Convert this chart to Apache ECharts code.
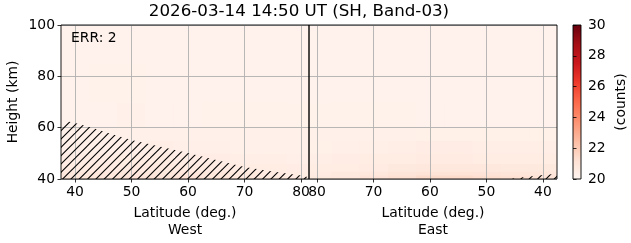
<!DOCTYPE html>
<html><head><meta charset="utf-8">
<script src="https://cdn.jsdelivr.net/npm/echarts@6/dist/echarts.min.js"></script>
<style>html,body{margin:0;padding:0;background:#fff}#c{width:631px;height:243px}</style>
</head><body><div id="c"></div>
<script>
const titleText = '2026-03-14 14:50 UT (SH, Band-03)';
const errText = 'ERR: 2';
const latTicks = [40, 50, 60, 70, 80];
const latMin = 37.5;
const latMax = 81.42;
const heightMin = 40, heightMax = 100, heightStep = 20;
const cbarMin = 20, cbarMax = 30, cbarStep = 2;

// cell edges (latitude ascending, height ascending)
const latEdges = [37.5, 42.5, 47.5, 52.5, 57.5, 62.5, 67.5, 72.5, 77.5, 81.42];
const heightEdges = [40, 41.5, 43, 46, 50, 55, 60, 70, 85, 100];

// counts, rows = height bands bottom->top, cols = latitude bands ascending
const westValues = [
  [20.9, 20.9, 21.0, 21.0, 21.0, 20.9, 20.8, 20.7, 20.6],
  [20.75, 20.8, 20.85, 20.85, 20.85, 20.8, 20.7, 20.6, 20.5],
  [20.6, 20.6, 20.65, 20.65, 20.6, 20.6, 20.55, 20.5, 20.45],
  [20.45, 20.45, 20.5, 20.5, 20.45, 20.45, 20.4, 20.4, 20.35],
  [20.35, 20.35, 20.35, 20.4, 20.35, 20.35, 20.3, 20.3, 20.3],
  [20.3, 20.3, 20.3, 20.3, 20.3, 20.25, 20.25, 20.25, 20.25],
  [20.22, 20.22, 20.25, 20.22, 20.22, 20.2, 20.2, 20.2, 20.2],
  [20.18, 20.2, 20.2, 20.18, 20.18, 20.18, 20.18, 20.17, 20.17],
  [20.15, 20.16, 20.17, 20.16, 20.15, 20.15, 20.15, 20.15, 20.15]
];
const eastValues = [
  [21.1, 21.2, 21.3, 21.4, 21.4, 21.2, 21.0, 20.8, 20.7],
  [20.9, 20.95, 21.0, 21.05, 21.05, 20.95, 20.8, 20.7, 20.6],
  [20.7, 20.7, 20.75, 20.8, 20.8, 20.7, 20.6, 20.55, 20.5],
  [20.55, 20.55, 20.55, 20.6, 20.6, 20.55, 20.5, 20.45, 20.4],
  [20.42, 20.42, 20.42, 20.45, 20.45, 20.42, 20.38, 20.35, 20.32],
  [20.32, 20.32, 20.32, 20.32, 20.32, 20.3, 20.28, 20.26, 20.25],
  [20.22, 20.22, 20.22, 20.22, 20.22, 20.2, 20.2, 20.2, 20.2],
  [20.17, 20.17, 20.17, 20.17, 20.17, 20.17, 20.16, 20.16, 20.16],
  [20.15, 20.15, 20.15, 20.15, 20.15, 20.15, 20.15, 20.15, 20.15]
];

// top of the hatched (masked) region
const westHatchLat = [37.5, 38.6, 40, 43, 46, 50, 55, 60, 65, 70, 75, 80, 81.42];
const westHatchTop = [61.3, 62.5, 61.8, 60.0, 57.8, 55.2, 52.7, 50.1, 47.4, 44.7, 42.9, 41.4, 40.7];
const eastHatchLat = [46, 44, 42, 40, 37.5];
const eastHatchTop = [40.0, 40.6, 41.1, 41.6, 42.0];

const redsColors = ['#fff5f0','#fee0d2','#fcbba1','#fc9272','#fb6a4a','#ef3b2c','#cb181d','#a50f15','#67000d'];
const FONT = 'DejaVu Sans';

function cells(values) {
  const out = [];
  for (let r = 0; r < heightEdges.length - 1; r++) {
    for (let c = 0; c < latEdges.length - 1; c++) {
      out.push([latEdges[c], latEdges[c + 1], heightEdges[r], heightEdges[r + 1], values[r][c]]);
    }
  }
  return out;
}

function renderCell(params, api) {
  const a = api.coord([api.value(0), api.value(2)]);
  const b = api.coord([api.value(1), api.value(3)]);
  const x = Math.min(a[0], b[0]), y = Math.min(a[1], b[1]);
  return {
    type: 'rect',
    shape: { x: x - 0.4, y: y - 0.4, width: Math.abs(b[0] - a[0]) + 0.8, height: Math.abs(b[1] - a[1]) + 0.8 },
    style: { fill: api.visual('color'), stroke: null }
  };
}

// hatch pattern "//"
const S = 25, d = S / 3;
const pc = document.createElement('canvas');
pc.width = S; pc.height = S;
const ctx = pc.getContext('2d');
ctx.strokeStyle = '#000';
ctx.lineWidth = 1.1;
for (let c = -d; c <= 2 * S + d; c += d) {
  ctx.beginPath(); ctx.moveTo(c + 3, -3); ctx.lineTo(-3, c + 3); ctx.stroke();
}
const hatchFill = { image: pc, repeat: 'repeat' };

function makeHatch(lats, tops) {
  return function (params, api) {
    if (params.dataIndex !== 0) return null;
    const pts = [api.coord([lats[0], heightMin])];
    for (let i = 0; i < lats.length; i++) pts.push(api.coord([lats[i], tops[i]]));
    pts.push(api.coord([lats[lats.length - 1], heightMin]));
    return { type: 'polygon', shape: { points: pts }, style: { fill: hatchFill, stroke: null } };
  };
}

const tickFont = { fontFamily: FONT, fontSize: 13.9, color: '#000' };

function latAxis(gi, inverse, side) {
  return {
    gridIndex: gi, type: 'value', min: latMin, max: latMax, inverse: inverse, z: 3,
    axisLine: { show: false },
    axisTick: { show: true, customValues: latTicks, length: 3.5, lineStyle: { color: '#000', width: 0.8 } },
    axisLabel: Object.assign({ customValues: latTicks, margin: 6 }, tickFont),
    splitLine: { show: true, lineStyle: { color: '#b0b0b0', width: 0.9 } },
    name: 'Latitude (deg.)\n' + side, nameLocation: 'middle', nameGap: 26,
    nameTextStyle: { fontFamily: FONT, fontSize: 13.9, color: '#000', lineHeight: 17 }
  };
}

const chart = echarts.init(document.getElementById('c'), null, { renderer: 'canvas' });
chart.setOption({
  animation: false,
  backgroundColor: '#fff',
  title: [
    { text: titleText, left: 299, top: 3, textAlign: 'center', padding: 0,
      textStyle: { fontFamily: FONT, fontSize: 16.7, fontWeight: 'normal', color: '#000' } },
    { text: errText, left: 71, top: 31, padding: 0, z: 12,
      textStyle: { fontFamily: FONT, fontSize: 13.9, fontWeight: 'normal', color: '#000' } }
  ],
  grid: [
    { left: 61, top: 25, width: 248, height: 154, show: true, borderColor: '#000', borderWidth: 0.9, backgroundColor: 'transparent', z: 10, outerBoundsMode: 'none' },
    { left: 309, top: 25, width: 248, height: 154, show: true, borderColor: '#000', borderWidth: 0.9, backgroundColor: 'transparent', z: 10, outerBoundsMode: 'none' },
    { left: 573, top: 25, width: 8, height: 154, show: true, borderColor: '#000', borderWidth: 0.9, backgroundColor: 'transparent', z: 10, outerBoundsMode: 'none' }
  ],
  xAxis: [
    latAxis(0, false, 'West'),
    latAxis(1, true, 'East'),
    { gridIndex: 2, type: 'value', min: 0, max: 1, show: false }
  ],
  yAxis: [
    { gridIndex: 0, type: 'value', min: heightMin, max: heightMax, interval: heightStep, z: 3,
      axisLine: { show: false },
      axisTick: { show: true, length: 3.5, lineStyle: { color: '#000', width: 0.8 } },
      axisLabel: Object.assign({ margin: 6 }, tickFont),
      splitLine: { show: true, lineStyle: { color: '#b0b0b0', width: 0.9 } },
      name: 'Height (km)', nameLocation: 'middle', nameGap: 41,
      nameTextStyle: { fontFamily: FONT, fontSize: 13.9, color: '#000' } },
    { gridIndex: 1, type: 'value', min: heightMin, max: heightMax, interval: heightStep, z: 3,
      axisLine: { show: false }, axisTick: { show: false }, axisLabel: { show: false },
      splitLine: { show: true, lineStyle: { color: '#b0b0b0', width: 0.9 } } },
    { gridIndex: 2, type: 'value', position: 'right', min: cbarMin, max: cbarMax, interval: cbarStep, z: 3,
      axisLine: { show: false },
      axisTick: { show: true, length: 3.5, lineStyle: { color: '#000', width: 0.8 } },
      axisLabel: Object.assign({ margin: 7 }, tickFont),
      splitLine: { show: false },
      name: '(counts)', nameLocation: 'middle', nameGap: 33,
      nameTextStyle: { fontFamily: FONT, fontSize: 13.9, color: '#000' } }
  ],
  visualMap: {
    type: 'continuous', show: false, min: cbarMin, max: cbarMax, dimension: 4, seriesIndex: [0, 1],
    inRange: { color: redsColors }
  },
  series: [
    { type: 'custom', xAxisIndex: 0, yAxisIndex: 0, z: 1, clip: true, silent: true,
      data: cells(westValues), encode: { x: [0, 1], y: [2, 3] }, renderItem: renderCell },
    { type: 'custom', xAxisIndex: 1, yAxisIndex: 1, z: 1, clip: true, silent: true,
      data: cells(eastValues), encode: { x: [0, 1], y: [2, 3] }, renderItem: renderCell },
    { type: 'custom', xAxisIndex: 0, yAxisIndex: 0, z: 4, clip: true, silent: true,
      data: westHatchLat.map((l, i) => [l, westHatchTop[i]]), renderItem: makeHatch(westHatchLat, westHatchTop) },
    { type: 'custom', xAxisIndex: 1, yAxisIndex: 1, z: 4, clip: true, silent: true,
      data: eastHatchLat.map((l, i) => [l, eastHatchTop[i]]), renderItem: makeHatch(eastHatchLat, eastHatchTop) },
    { type: 'custom', xAxisIndex: 2, yAxisIndex: 2, z: 1, silent: true,
      data: [[0, cbarMin, 1, cbarMax]],
      renderItem: function (params, api) {
        const a = api.coord([api.value(0), api.value(1)]);
        const b = api.coord([api.value(2), api.value(3)]);
        return { type: 'rect',
          shape: { x: Math.min(a[0], b[0]), y: Math.min(a[1], b[1]), width: Math.abs(b[0] - a[0]), height: Math.abs(b[1] - a[1]) },
          style: { stroke: null, fill: { type: 'linear', x: 0, y: 1, x2: 0, y2: 0,
            colorStops: redsColors.map((c, i) => ({ offset: i / (redsColors.length - 1), color: c })) } } };
      } }
  ]
});
</script></body></html>
